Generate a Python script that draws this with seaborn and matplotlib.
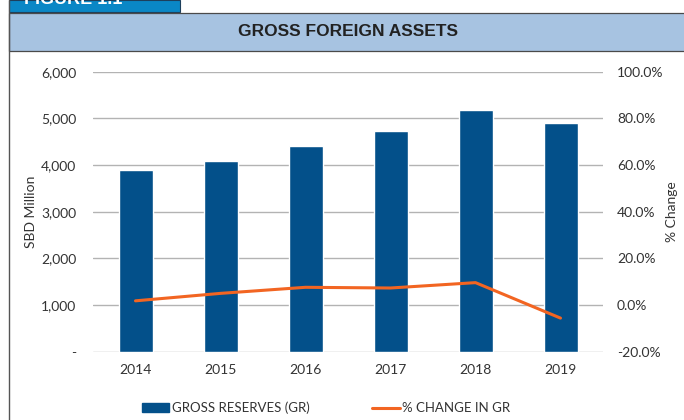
import matplotlib.pyplot as plt
import matplotlib.ticker as mticker
from matplotlib.patches import Rectangle
from matplotlib.lines import Line2D
import seaborn as sns
import pandas as pd

# values
years = ['2014', '2015', '2016', '2017', '2018', '2019']
gross_reserves = [3890, 4085, 4405, 4730, 5180, 4900]
pct_change = [1.8, 5.0, 7.6, 7.3, 9.6, -5.6]

df = pd.DataFrame({'year': years, 'gr': gross_reserves, 'chg': pct_change})

sns.set_style('white')
plt.rcParams['font.family'] = ['Lato', 'DejaVu Sans']

bar_col = '#03508a'
line_col = '#f26522'
grid_col = '#b3b3b3'
text_col = '#333333'

fig = plt.figure(figsize=(6.84, 4.2), dpi=100)
W, H = 684, 420

def fx(px):
    return px / W

def fy(py):
    return 1 - py / H

# frame: tab, header band, left border
fig.patches.append(Rectangle((fx(9), fy(12)), fx(171), 12 / H, transform=fig.transFigure,
                             facecolor='#0a87c6', edgecolor='#1d3f5c', lw=0.8, zorder=0))
fig.patches.append(Rectangle((fx(9), fy(51)), 1, 38 / H, transform=fig.transFigure,
                             facecolor='#a7c3e1', edgecolor='#4a4a4a', lw=0.9, zorder=0))
fig.lines.append(Line2D([fx(9), fx(9)], [0, 1], transform=fig.transFigure, color='#555555', lw=1))
fig.text(fx(24), fy(3.5), 'FIGURE 1.1', color='white', fontsize=13, fontweight='bold',
         family=['Liberation Sans', 'DejaVu Sans'], va='baseline', ha='left')
fig.text(fx(348), fy(32), 'GROSS FOREIGN ASSETS', color='#222222', fontsize=12.5, fontweight='bold',
         family=['Liberation Sans', 'DejaVu Sans'], ha='center', va='center')

ax = fig.add_axes([fx(93), fy(351.7), fx(603 - 93), (351.7 - 71.7) / H])
sns.barplot(data=df, x='year', y='gr', color=bar_col, width=0.4, saturation=1, ax=ax, zorder=2)
ax.set_ylim(0, 6000)
ax.set_xlim(-0.5, 5.5)
ax.set_yticks(range(0, 6001, 1000))
ax.yaxis.set_major_formatter(mticker.FuncFormatter(lambda v, p: '-' if v == 0 else f'{v:,.0f}'))
ax.grid(axis='y', color=grid_col, lw=1)
ax.set_axisbelow(True)
for s in ax.spines.values():
    s.set_visible(False)
ax.tick_params(length=0, labelsize=10, colors=text_col, pad=12)
ax.tick_params(axis='x', pad=9)
ax.set_xlabel('')
ax.set_ylabel('SBD Million', fontsize=10, color=text_col, labelpad=3)

ax2 = ax.twinx()
sns.lineplot(x=list(range(len(years))), y=df['chg'], color=line_col, lw=2.2, ax=ax2, zorder=3)
ax2.set_ylim(-20, 100)
ax2.set_yticks(range(-20, 101, 20))
ax2.yaxis.set_major_formatter(mticker.FuncFormatter(lambda v, p: f'{v:.1f}%'))
for s in ax2.spines.values():
    s.set_visible(False)
ax2.tick_params(length=0, labelsize=10, colors=text_col, pad=10)
ax2.set_ylabel('% Change', fontsize=10, color=text_col, labelpad=2)

# legend
handles = [Rectangle((0, 0), 1, 1, color=bar_col), Line2D([0], [0], color=line_col, lw=2.2)]
fig.legend(handles, ['GROSS RESERVES (GR)', '% CHANGE IN GR'], loc='center',
           bbox_to_anchor=(fx(326), fy(408)), ncol=2, frameon=False, fontsize=9.5,
           handlelength=2.1, handleheight=0.6, handletextpad=0.2, columnspacing=4.7,
           labelcolor=text_col)

fig.savefig('out.png', dpi=100)
